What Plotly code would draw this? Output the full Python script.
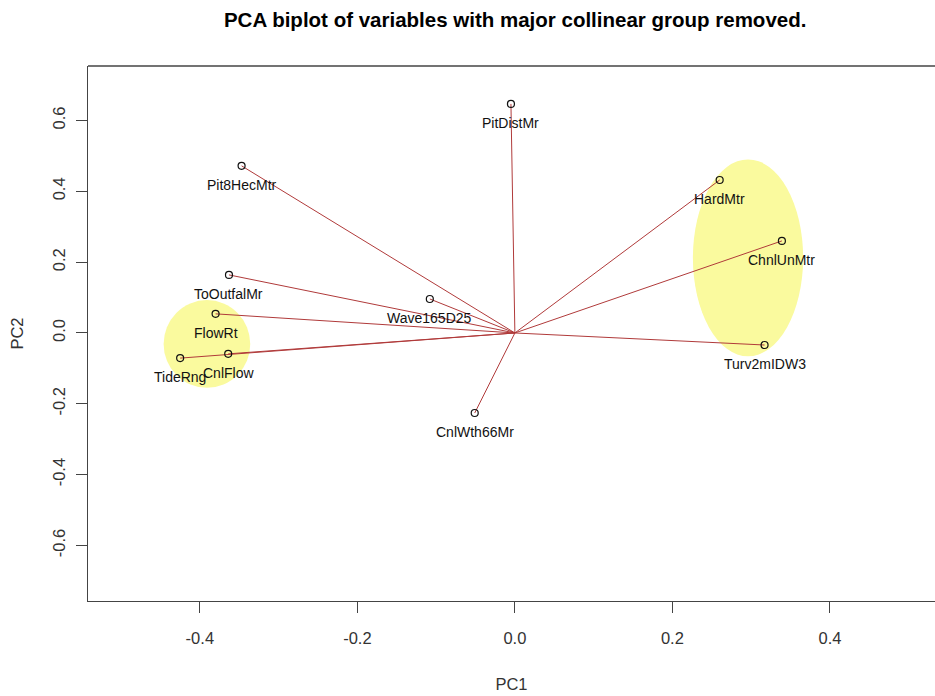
import plotly.graph_objects as go

# Variable loadings (PC1, PC2)
variables = ["PitDistMr", "Pit8HecMtr", "HardMtr", "ChnlUnMtr", "ToOutfalMr",
             "Wave165D25", "FlowRt", "CnlFlow", "TideRng", "Turv2mIDW3", "CnlWth66Mr"]
pc1 = [-0.005, -0.347, 0.260, 0.339, -0.363, -0.108, -0.380, -0.364, -0.425, 0.317, -0.051]
pc2 = [0.647, 0.472, 0.432, 0.260, 0.164, 0.096, 0.054, -0.059, -0.071, -0.034, -0.226]

# Highlight ellipses: centre x, centre y, half-width, half-height
ell_cx = [-0.391, 0.296]
ell_cy = [-0.031, 0.212]
ell_rx = [0.055, 0.070]
ell_ry = [0.124, 0.278]

x_ticks = [-0.4, -0.2, 0.0, 0.2, 0.4]
y_ticks = [-0.6, -0.4, -0.2, 0.0, 0.2, 0.4, 0.6]

line_col = "#B03A3A"
font_fam = "Liberation Sans, Arial, sans-serif"
tick_col = "#333"

fig = go.Figure()

shapes = []
for cx, cy, rx, ry in zip(ell_cx, ell_cy, ell_rx, ell_ry):
    shapes.append(dict(type="circle", xref="x", yref="y",
                       x0=cx - rx, x1=cx + rx, y0=cy - ry, y1=cy + ry,
                       fillcolor="#FAFA9E", line=dict(width=0), layer="below"))

# arrows from origin
for x, y in zip(pc1, pc2):
    fig.add_trace(go.Scatter(x=[0, x], y=[0, y], mode="lines",
                             line=dict(color=line_col, width=1),
                             hoverinfo="skip", showlegend=False))

fig.add_trace(go.Scatter(x=pc1, y=pc2, mode="markers",
                         marker=dict(symbol="circle-open", size=7,
                                     color="#111", line=dict(width=1.2, color="#111")),
                         showlegend=False))

annotations = []
for name, x, y in zip(variables, pc1, pc2):
    annotations.append(dict(x=x, y=y, xref="x", yref="y", text=name, showarrow=False,
                            yshift=-19, font=dict(family=font_fam, size=14, color="#111")))

# top frame line (right edge is cut off in the reference)
shapes.append(dict(type="line", xref="paper", yref="paper", x0=0, x1=1.05, y0=1, y1=1,
                   line=dict(color="#444", width=1.3)))

fig.update_layout(
    width=935, height=696,
    margin=dict(l=88, r=0, t=66, b=95),
    paper_bgcolor="white", plot_bgcolor="white",
    title=dict(text="<b>PCA biplot of variables with major collinear group removed.</b>",
               x=0.551, xanchor="center", y=0.972, yanchor="middle",
               font=dict(family=font_fam, size=20.5, color="#000")),
    shapes=shapes,
    annotations=annotations,
    font=dict(family=font_fam, color=tick_col),
    xaxis=dict(range=[-0.542, 0.5334], tickvals=x_ticks,
               ticktext=[f"{v:.1f}" for v in x_ticks],
               showgrid=False, zeroline=False, showline=True, linecolor="#444", linewidth=1.3,
               ticks="outside", ticklen=11, tickcolor="#444", tickwidth=1,
               ticklabelstandoff=11,
               tickfont=dict(size=16.5, color=tick_col),
               title=dict(text="PC1", font=dict(size=16.5, color=tick_col), standoff=32)),
    yaxis=dict(range=[-0.757, 0.754], tickvals=y_ticks,
               ticktext=[f"{v:.1f}" for v in y_ticks],
               showgrid=False, zeroline=False, showline=True, linecolor="#444", linewidth=1.3,
               ticks="outside", ticklen=11, tickcolor="#444", tickwidth=1, tickangle=-90,
               ticklabelstandoff=4,
               tickfont=dict(size=16.5, color=tick_col),
               title=dict(text="PC2", font=dict(size=16.5, color=tick_col), standoff=22)),
)

fig.write_html("out.html")
